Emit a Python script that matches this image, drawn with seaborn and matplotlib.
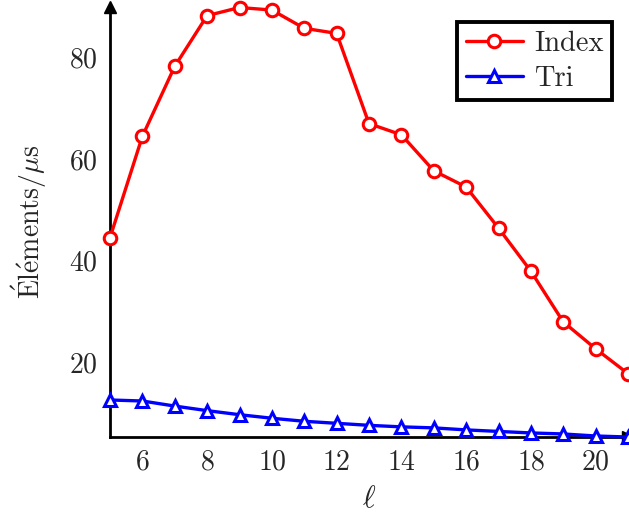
import numpy as np
import pandas as pd
import seaborn as sns
import matplotlib.pyplot as plt

# values
ell = [5, 6, 7, 8, 9, 10, 11, 12, 13, 14, 15, 16, 17, 18, 19, 20, 21]
index_vals = [44.5, 64.5, 78.3, 88.3, 89.9, 89.4, 85.8, 84.8, 67.0, 64.8,
              57.7, 54.5, 46.4, 37.9, 27.9, 22.6, 17.7]
tri_vals = [12.5, 12.3, 11.3, 10.4, 9.6, 8.9, 8.3, 7.9, 7.5, 7.2,
            7.0, 6.6, 6.3, 6.0, 5.8, 5.4, 5.2]
xticks = [6, 8, 10, 12, 14, 16, 18, 20]
yticks = [20, 40, 60, 80]

sns.set_style('white')
plt.rcParams['font.family'] = ['cmr10', 'DejaVu Serif']
plt.rcParams['mathtext.fontset'] = 'cm'
plt.rcParams['axes.formatter.use_mathtext'] = True

fig = plt.figure(figsize=(6.29, 5.19), dpi=100)
ax = fig.add_axes([110/629, 82/519, 518/629, 430/519])

sns.lineplot(x=ell, y=index_vals, ax=ax, color='red', marker='o', lw=2.4,
             ms=9, mfc='white', mec='red', mew=2.2, label='Index', clip_on=False, zorder=4)
sns.lineplot(x=ell, y=tri_vals, ax=ax, color='blue', marker='^', lw=2.4,
             ms=9, mfc='white', mec='blue', mew=2.2, label='Tri', clip_on=False, zorder=4)

ax.set_xlim(5, 21)
ax.set_ylim(5.2, 90)
ax.set_xticks(xticks)
ax.set_yticks(yticks)
ax.tick_params(axis='both', direction='inout', length=6, width=1, color='#999999',
               labelsize=20, pad=6)
for s in ['top', 'right']:
    ax.spines[s].set_visible(False)
for s in ['left', 'bottom']:
    ax.spines[s].set_linewidth(2)
    ax.spines[s].set_color('black')
ax.plot(0, 1, '^k', ms=8, transform=ax.transAxes, clip_on=False, zorder=5)
ax.plot(1, 0, '>k', ms=8, transform=ax.transAxes, clip_on=False, zorder=3)

ax.set_xlabel(r'$\ell$', fontsize=22, labelpad=7)
ax.set_ylabel(r'$\acute{\mathrm{E}}\mathrm{l}\acute{\mathrm{e}}\mathrm{ments}/\mu\mathrm{s}$',
              fontsize=20, labelpad=14)

leg = ax.legend(loc='upper right', bbox_to_anchor=(0.969, 0.965), borderaxespad=0,
                fontsize=20.5, frameon=True, fancybox=False, framealpha=1,
                handlelength=2.0, borderpad=0.3, labelspacing=0.3, handletextpad=0.4)
leg.get_frame().set_edgecolor('black')
leg.get_frame().set_linewidth(2.8)

fig.savefig('out.png', dpi=100)
